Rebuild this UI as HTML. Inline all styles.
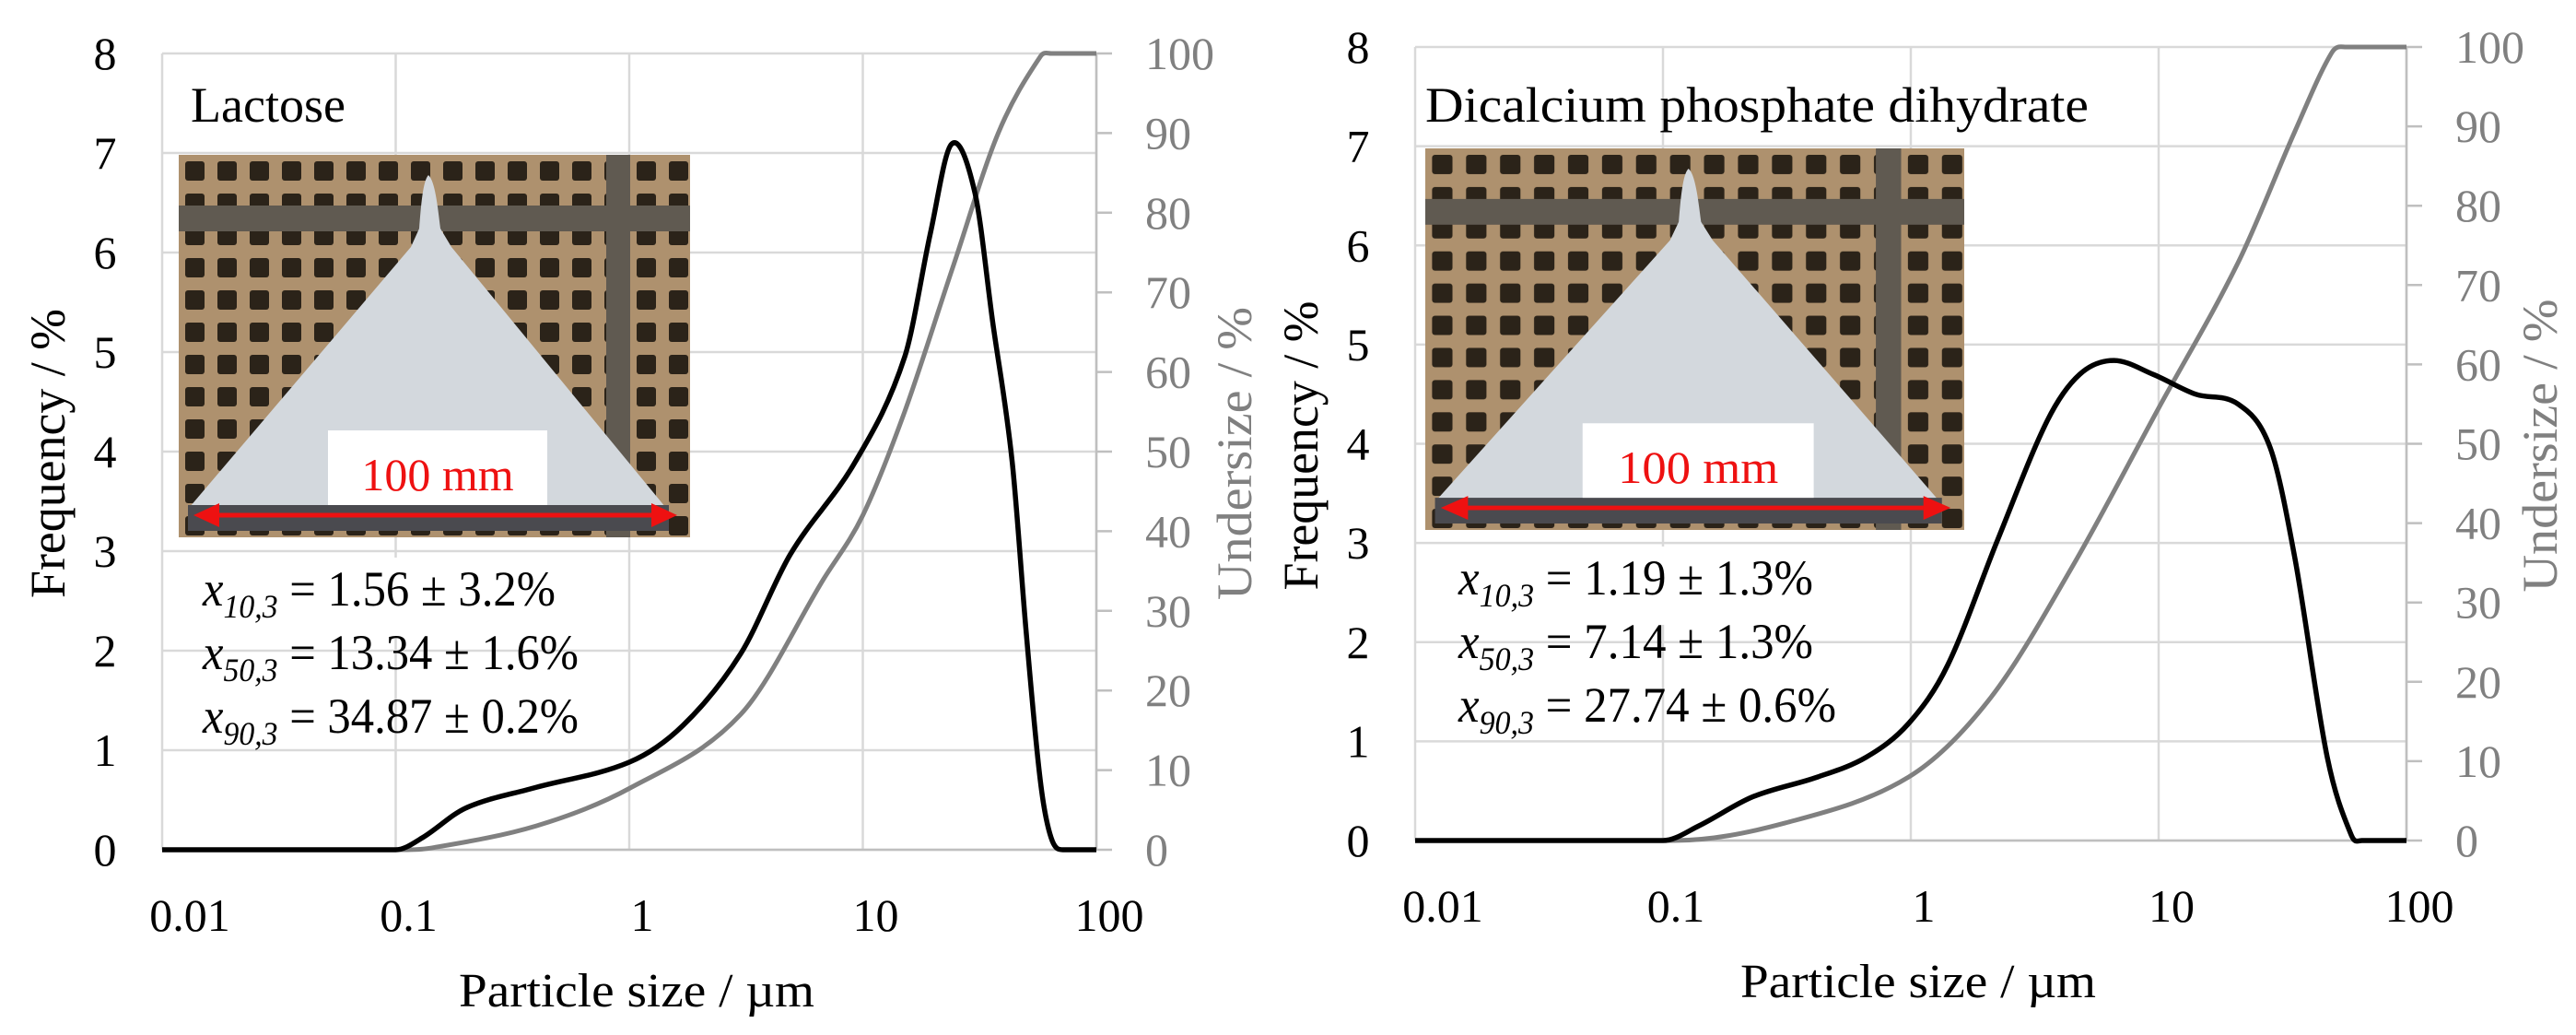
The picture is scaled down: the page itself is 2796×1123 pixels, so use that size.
<!DOCTYPE html>
<html><head><meta charset="utf-8"><style>
html,body{margin:0;padding:0;background:#fff;}
svg{display:block;font-family:"Liberation Serif",serif;}
</style></head><body>
<svg id="fig" width="2796" height="1123" viewBox="0 0 2796 1123" xmlns="http://www.w3.org/2000/svg">
<defs>
<pattern id="holes" x="0" y="0" width="35" height="35" patternUnits="userSpaceOnUse">
<rect width="35" height="35" fill="#b39671"/>
<rect x="7" y="7" width="21" height="21" rx="3" fill="#1e1810"/>
</pattern>
</defs>
</svg>
<script>
// ---- data: Lactose ----
const lacFreqX=[0.01,0.1,0.13,0.2,0.39,1,1.7,3.0,4.9,9.3,15.1,19.5,24,30.2,36,43.6,50,57.5,64,72,100];
const lacFreqY=[0,0,0.12,0.42,0.62,0.88,1.25,1.97,2.97,3.9,4.95,6.2,7.09,6.6,5.3,3.9,2.2,0.7,0.12,0,0];
const lacCumX=[0.01,0.1,0.14,0.4,1,3.0,6.8,10,15.1,24.5,38,57.5,64,100];
const lacCumY=[0,0,0.2,3,7.7,17,34,42,55,73.5,90,99.6,100,100];
// ---- data: Dicalcium phosphate dihydrate ----
const dcpFreqX=[0.01,0.1,0.14,0.23,0.42,0.66,0.98,1.41,2.24,3.55,4.8,6.6,9.5,14.1,20.9,28.2,35.5,47.9,60,66,100];
const dcpFreqY=[0,0,0.15,0.44,0.64,0.84,1.18,1.77,3.03,4.23,4.7,4.84,4.7,4.5,4.4,3.96,2.84,0.84,0.05,0,0];
const dcpCumX=[0.01,0.11,0.31,0.98,2.1,4.5,10,20.9,35.5,50,57,100];
const dcpCumY=[0,0,2.2,8,18,34.6,54.5,72.8,89.4,99.3,100,100];
const xTicks=[0.01,0.1,1,10,100];
const xTickLabels=["0.01","0.1","1","10","100"];
const freqTicks=[0,1,2,3,4,5,6,7,8];
const cumTicks=[0,10,20,30,40,50,60,70,80,90,100];

const NS="http://www.w3.org/2000/svg";
const svg=document.getElementById('fig');
function mk(tag,attrs,parent){const e=document.createElementNS(NS,tag);for(const k in attrs)e.setAttribute(k,attrs[k]);(parent||svg).appendChild(e);return e;}

// cubic Hermite with central-difference slopes, flat where a neighbouring segment is flat
function smoothPath(pts){
  const n=pts.length, m=new Array(n).fill(0);
  for(let i=0;i<n;i++){
    if(i===0||i===n-1){m[i]=0;continue;}
    const a=pts[i-1],b=pts[i],c=pts[i+1];
    if(a[1]===b[1]||b[1]===c[1]){m[i]=0;continue;}
    m[i]=(c[1]-a[1])/(c[0]-a[0]);
  }
  let s=`M${pts[0][0].toFixed(1)},${pts[0][1].toFixed(1)}`;
  for(let i=0;i<n-1;i++){
    const h=(pts[i+1][0]-pts[i][0])/3;
    s+=` C${(pts[i][0]+h).toFixed(1)},${(pts[i][1]+m[i]*h).toFixed(1)} ${(pts[i+1][0]-h).toFixed(1)},${(pts[i+1][1]-m[i+1]*h).toFixed(1)} ${pts[i+1][0].toFixed(1)},${pts[i+1][1].toFixed(1)}`;
  }
  return s;
}

function photo(g,px,py,w,h){
  const s=mk('g',{transform:`translate(${px},${py}) scale(${w/555},${h/415})`},g);
  
  
  mk('rect',{x:0,y:0,width:555,height:415,fill:'url(#holes)'},s);
  mk('rect',{x:0,y:55,width:555,height:28,fill:'#5a5750'},s);
  mk('rect',{x:464,y:0,width:26,height:415,fill:'#5a5750'},s);
  mk('rect',{x:0,y:0,width:555,height:415,fill:'#8a7458',opacity:0.12},s);
  mk('path',{d:'M271,22 C265,28 263,55 261,80 L252,100 L12,382 L528,382 L296,100 L284,80 C281,55 278,28 271,22 Z',fill:'#d3d8dd'},s);
  mk('rect',{x:10,y:380,width:522,height:28,fill:'#4a4a4f'},s);
  mk('rect',{x:162,y:299,width:238,height:81,fill:'#ffffff'},s);
  const t=mk('text',{x:281,y:364,'text-anchor':'middle','font-size':50,fill:'#ee1111'},s);t.textContent='100 mm';
  
  
  mk('line',{x1:40,y1:391,x2:516,y2:391,stroke:'#ee1111','stroke-width':5},s);
  mk('polygon',{points:'16,391 44,378 44,404',fill:'#ee1111'},s);
  mk('polygon',{points:'541,391 513,378 513,404',fill:'#ee1111'},s);
}

function chart(cfg){
  const g=mk('g',{});
  
  
  const {L,R,T,B}=cfg;
  const xs=v=>L+(Math.log10(v)+2)/4*(R-L);
  const yf=v=>B-v/8*(B-T);
  const yc=v=>B-v/100*(B-T);
  freqTicks.forEach(v=>{const l=mk('line',{x1:L,x2:R,y1:yf(v),y2:yf(v),stroke:'#d9d9d9','stroke-width':2.5},g);
    
    });
  xTicks.forEach(v=>{const l=mk('line',{x1:xs(v),x2:xs(v),y1:T,y2:B,stroke:'#d9d9d9','stroke-width':2.5},g);
    
    });
  photo(g,cfg.photo[0],cfg.photo[1],cfg.photo[2],cfg.photo[3]);
  const sb=mk('rect',{x:cfg.stats[0]-15,y:cfg.stats[1]-52,width:420,height:85,fill:'#fff'},g);
  
  
  cfg.statLines.forEach((ln,i)=>{
    const t=mk('text',{x:cfg.stats[0],y:cfg.stats[1]+i*69,'font-size':54,fill:'#000',textLength:cfg.statW[i],lengthAdjust:'spacingAndGlyphs'},g);
    
    
    const a=mk('tspan',{'font-style':'italic'},t);a.textContent='x';
    const b=mk('tspan',{'font-style':'italic','font-size':36,dy:13},t);b.textContent=ln[0];
    const c=mk('tspan',{dy:-13},t);c.textContent=' = '+ln[1];
  });
  mk('line',{x1:L,x2:R,y1:B,y2:B,stroke:'#bfbfbf','stroke-width':2.5},g);
  const ra=mk('line',{x1:R,x2:R,y1:T,y2:B,stroke:'#bfbfbf','stroke-width':2.5},g);
  
  
  cumTicks.forEach(v=>{mk('line',{x1:R,x2:R+17,y1:yc(v),y2:yc(v),stroke:'#bfbfbf','stroke-width':2.5},g);
    const t=mk('text',{x:R+53,y:yc(v)+17,'font-size':50,fill:'#808080'},g);t.textContent=String(v);
    
    });
  freqTicks.forEach(v=>{const t=mk('text',{x:L-62,y:yf(v)+17,'font-size':50,'text-anchor':'middle',fill:'#000'},g);t.textContent=String(v);
    
    });
  xTicks.forEach((v,i)=>{const t=mk('text',{x:xs(v)+(i==0?30:14),y:B+88,'font-size':50,'text-anchor':'middle',fill:'#000'},g);t.textContent=xTickLabels[i];
    
    });
  let t=mk('text',{x:(L+R)/2+8,y:B+170,'font-size':52,'text-anchor':'middle',fill:'#000',textLength:386,lengthAdjust:'spacingAndGlyphs'},g);t.textContent='Particle size / µm';
  
  
  t=mk('text',{x:0,y:0,'font-size':54,'text-anchor':'middle',fill:'#000',textLength:314,lengthAdjust:'spacingAndGlyphs',transform:`translate(${cfg.ft},${(T+B)/2+2}) rotate(-90)`},g);t.textContent='Frequency / %';
  
  
  t=mk('text',{x:0,y:0,'font-size':54,'text-anchor':'middle',fill:'#808080',textLength:318,lengthAdjust:'spacingAndGlyphs',transform:`translate(${cfg.ut},${(T+B)/2+2}) rotate(-90)`},g);t.textContent='Undersize / %';
  
  
  t=mk('text',{x:cfg.title[0],y:cfg.title[1],'font-size':54,fill:'#000',textLength:cfg.titleW,lengthAdjust:'spacingAndGlyphs'},g);t.textContent=cfg.titleText;
  
  
  const cp=mk('path',{d:smoothPath(cfg.cx.map((x,i)=>[xs(x),yc(cfg.cy[i])])),fill:'none',stroke:'#808080','stroke-width':5},g);
  
  
  const fp=mk('path',{d:smoothPath(cfg.fx.map((x,i)=>[xs(x),yf(cfg.fy[i])])),fill:'none',stroke:'#000','stroke-width':5.5},g);
  
  
}

chart({name:'lactose-chart',L:176,R:1190,T:58,B:922,photo:[194,168,555,415],stats:[220,657],statW:[383,408,408],
  statLines:[['10,3','1.56 ± 3.2%'],['50,3','13.34 ± 1.6%'],['90,3','34.87 ± 0.2%']],
  ft:70,ut:1358,title:[207,132],titleW:168,titleText:'Lactose',
  fx:lacFreqX,fy:lacFreqY,cx:lacCumX,cy:lacCumY});
chart({name:'dcpd-chart',L:1536,R:2612,T:51,B:912,photo:[1547,161,585,414],stats:[1583,645],statW:[385,385,410],
  statLines:[['10,3','1.19 ± 1.3%'],['50,3','7.14 ± 1.3%'],['90,3','27.74 ± 0.6%']],
  ft:1430,ut:2775,title:[1547,132],titleW:720,titleText:'Dicalcium phosphate dihydrate',
  fx:dcpFreqX,fy:dcpFreqY,cx:dcpCumX,cy:dcpCumY});
</script>
</body></html>
